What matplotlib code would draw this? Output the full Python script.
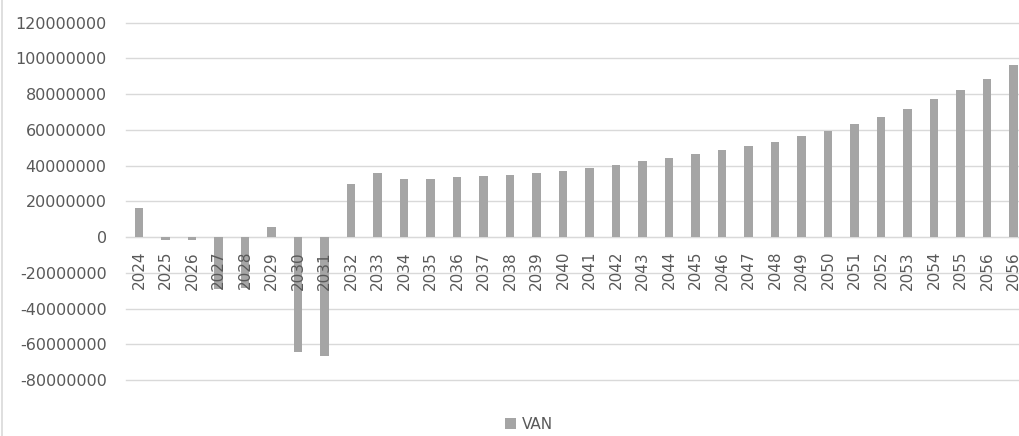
import numpy as np
import matplotlib
matplotlib.use("Agg")
import matplotlib.pyplot as plt
from matplotlib.ticker import FuncFormatter, MultipleLocator
from matplotlib.lines import Line2D

# données (VAN par année)
years = ['2024', '2025', '2026', '2027', '2028', '2029', '2030', '2031',
         '2032', '2033', '2034', '2035', '2036', '2037', '2038', '2039',
         '2040', '2041', '2042', '2043', '2044', '2045', '2046', '2047',
         '2048', '2049', '2050', '2051', '2052', '2053', '2054', '2055',
         '2056', '2056']
van = [16400000, -1600000, -1600000, -29200000, -28600000, 5400000,
       -64200000, -66700000, 29500000, 35700000, 32500000, 32500000,
       33400000, 34200000, 34900000, 35700000, 37200000, 38700000,
       40200000, 42600000, 44100000, 46300000, 48600000, 51000000,
       53400000, 56400000, 59600000, 63300000, 67100000, 71700000,
       77100000, 82500000, 88700000, 96200000]

bar_col = '#A5A5A5'
txt_col = '#595959'
grid_col = '#D9D9D9'

fig = plt.figure(figsize=(10.2, 4.36), dpi=100)
ax = fig.add_axes([0.1233, 0.1284, 0.8833, 0.8196])

x = np.arange(len(years))
ax.bar(x, van, width=0.31, color=bar_col, zorder=3, label='VAN')

ax.set_xlim(-0.5, len(years) - 0.5)
ax.set_ylim(-80000000, 120000000)
ax.yaxis.set_major_locator(MultipleLocator(20000000))
ax.yaxis.set_major_formatter(FuncFormatter(lambda v, p: f"{int(round(v))}"))
ax.grid(axis='y', color=grid_col, lw=1, zorder=0)
ax.set_axisbelow(True)

ax.set_xticks(x)
ax.set_xticklabels(years)

for s in ['top', 'right', 'left']:
    ax.spines[s].set_visible(False)
ax.spines['bottom'].set_position(('data', 0))
ax.spines['bottom'].set_color(grid_col)
ax.spines['bottom'].set_zorder(2)

ax.tick_params(axis='y', length=0, pad=13.7, labelsize=11.5, labelcolor=txt_col)
ax.tick_params(axis='x', length=0, pad=10, labelsize=11, labelcolor=txt_col,
               labelrotation=90)
# les années passent par-dessus les barres, comme dans Excel
ax.xaxis.set_zorder(4)
for gl in ax.get_ygridlines():
    gl.set_clip_on(False)

fig.legend(loc='center', bbox_to_anchor=(529 / 1020, 1 - 424 / 436),
           frameon=False, handlelength=0.7, handleheight=0.7,
           handletextpad=0.4, fontsize=11, labelcolor=txt_col)

# bordure gauche du cadre
fig.add_artist(Line2D([2 / 1020, 2 / 1020], [0, 1], color=grid_col, lw=1.2,
                      transform=fig.transFigure))

fig.savefig('out.png', dpi=100, facecolor='white')
